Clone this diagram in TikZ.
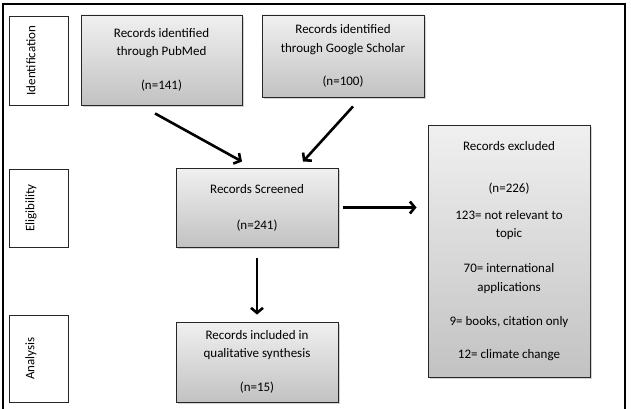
\documentclass[tikz,border=0pt]{standalone}
\usepackage{fontspec}
\setmainfont{Carlito}
\usetikzlibrary{arrows.meta,positioning,calc,shadows}
\definecolor{edge}{HTML}{262626}
\definecolor{shadetop}{HTML}{F0F0F0}
\definecolor{shadebot}{HTML}{C2C2C2}
\tikzset{box/.style={draw=edge,line width=0.9pt,top color=shadetop,bottom color=shadebot,align=center,
  minimum width=162pt,inner sep=0pt,font=\fontsize{13}{18.5}\selectfont,
  drop shadow={shadow xshift=1.6pt,shadow yshift=-1.6pt,opacity=0.35}},
  side/.style={draw=edge,line width=0.9pt,fill=white,minimum width=59pt,inner sep=0pt,
  drop shadow={shadow xshift=1.2pt,shadow yshift=-1.2pt,opacity=0.3}},
  sidetext/.style={rotate=90,font=\fontsize{13}{15}\selectfont},
  arrow/.style={-{Straight Barb[length=5pt,width=12pt]},line width=2.6pt}}
\begin{document}
\begin{tikzpicture}[x=1pt,y=-1pt]
\useasboundingbox (0,0) rectangle (631,409);
\draw[line width=1.3pt] (3,412) -- (3,4) -- (625,4) -- (625,412);
\node[side,minimum height=89pt] (ident) at (38.5,60.5) {};
\node[sidetext] (identtxt) at ([xshift=-7.5pt]ident.center) {Identification};
\node[side,minimum height=78pt] (elig) at (38.5,208) {};
\node[sidetext] (eligtxt) at ([xshift=-7.5pt]elig.center) {Eligibility};
\node[side,minimum height=87pt] (anal) at (38.5,358.5) {};
\node[sidetext] (analtxt) at ([xshift=-7.5pt]anal.center) {Analysis};
\node[box,minimum width=161pt,minimum height=90pt] (pubmed) at (161.5,60)
  {Records identified\\through PubMed\\[15.5pt](n=141)};
\node[box,minimum height=82pt] (scholar) at (343,56)
  {Records identified\\through Google Scholar\\[14.5pt](n=100)};
\node[box,minimum height=79pt] (screened) at (257,207.5)
  {Records Screened\\[17.5pt](n=241)};
\node[box,minimum height=80pt] (included) at (257,362)
  {Records included in\\qualitative synthesis\\[15.5pt](n=15)};
\node[box,minimum height=252pt] (excluded) at (509,251)
  {Records excluded\\[23.5pt](n=226)\\[8.5pt]123= not relevant to\\topic\\[16.5pt]70= international\\applications\\[15.5pt]9= books, citation only\\[14.5pt]12= climate change};
\draw[arrow] ([xshift=-6.5pt,yshift=-8pt]pubmed.south) -- ([xshift=-15pt,yshift=6pt]screened.north);
\draw[arrow] ([xshift=10pt,yshift=-9pt]scholar.south) -- ([xshift=46pt,yshift=6pt]screened.north);
\draw[arrow] ([yshift=-11pt]screened.south) -- ([yshift=7pt]included.north);
\draw[arrow] ([xshift=5pt]screened.east) -- ($(screened.east -| excluded.west)+(-11,0)$);
\end{tikzpicture}
\end{document}
